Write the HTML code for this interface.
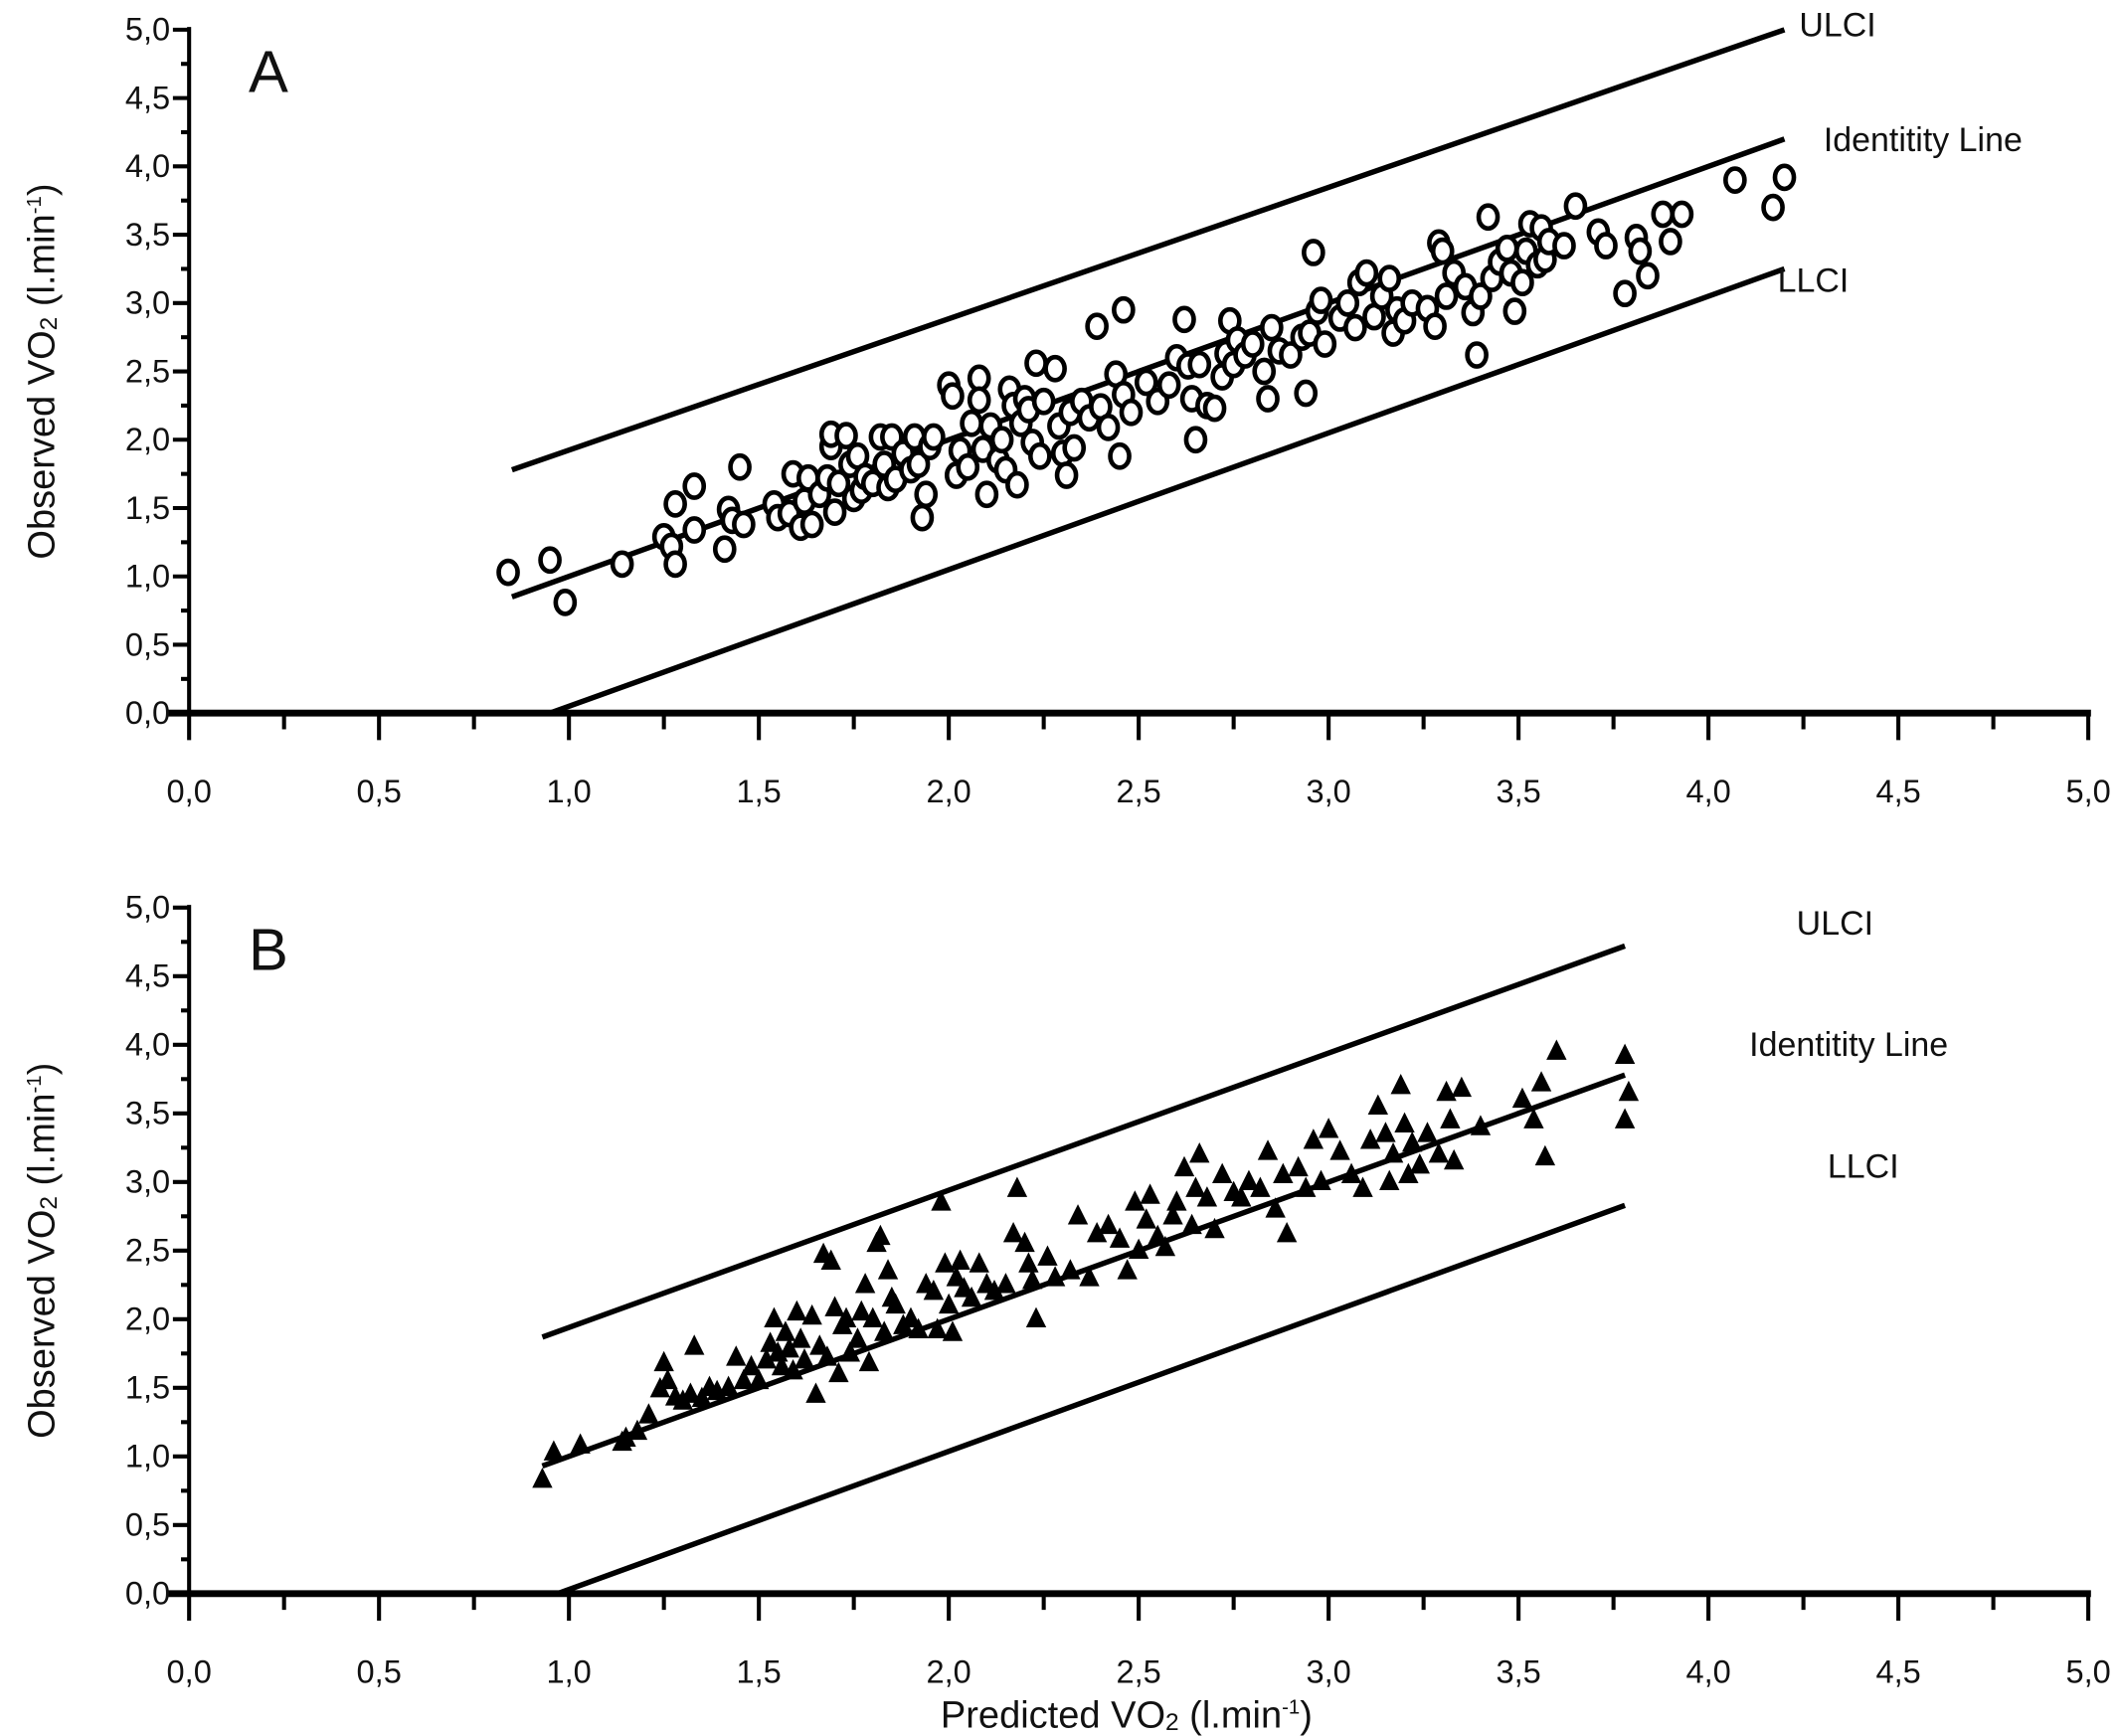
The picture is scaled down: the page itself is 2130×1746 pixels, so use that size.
<!DOCTYPE html>
<html><head><meta charset="utf-8"><style>
html,body{margin:0;padding:0;background:#fff}
svg{display:block}
text{font-family:"Liberation Sans",sans-serif;fill:#111}
</style></head><body>
<svg id="chart" width="2130" height="1746" viewBox="0 0 1568 1285.4" preserveAspectRatio="none" xmlns="http://www.w3.org/2000/svg"></svg>
<script>
const xTicks=["0,0","0,5","1,0","1,5","2,0","2,5","3,0","3,5","4,0","4,5","5,0"];
const yTicks=["0,0","0,5","1,0","1,5","2,0","2,5","3,0","3,5","4,0","4,5","5,0"];
const tickValues=[0,0.5,1,1.5,2,2.5,3,3.5,4,4.5,5];
const linesA=[{n:"ulci",x1:0.85,y1:1.78,x2:4.2,y2:5.0},{n:"identity",x1:0.85,y1:0.85,x2:4.2,y2:4.2},{n:"llci",x1:0.95,y1:0,x2:4.2,y2:3.25}];
const linesB=[{n:"ulci",x1:0.93,y1:1.87,x2:3.78,y2:4.72},{n:"identity",x1:0.93,y1:0.93,x2:3.78,y2:3.78},{n:"llci",x1:0.97,y1:0,x2:3.78,y2:2.83}];
const ptsA=[[0.84,1.03],[0.95,1.12],[0.99,0.81],[1.14,1.09],[1.25,1.29],[1.27,1.22],[1.28,1.09],[1.28,1.53],[1.33,1.66],[1.33,1.34],[1.41,1.20],[1.42,1.49],[1.43,1.41],[1.45,1.80],[1.46,1.38],[1.54,1.53],[1.55,1.43],[1.58,1.46],[1.59,1.75],[1.61,1.36],[1.62,1.55],[1.63,1.72],[1.64,1.38],[1.66,1.60],[1.68,1.72],[1.69,1.95],[1.69,2.04],[1.70,1.47],[1.71,1.68],[1.73,2.03],[1.74,1.82],[1.75,1.57],[1.76,1.88],[1.77,1.63],[1.78,1.73],[1.80,1.68],[1.82,2.02],[1.83,1.82],[1.84,1.65],[1.85,2.02],[1.86,1.71],[1.88,1.90],[1.90,1.78],[1.91,2.02],[1.92,1.82],[1.93,1.43],[1.94,1.60],[1.95,1.95],[1.96,2.02],[2.00,2.40],[2.01,2.32],[2.02,1.74],[2.03,1.92],[2.05,1.80],[2.06,2.12],[2.08,2.45],[2.08,2.29],[2.09,1.93],[2.10,1.60],[2.11,2.10],[2.13,1.85],[2.14,2.00],[2.15,1.78],[2.16,2.37],[2.17,2.25],[2.18,1.67],[2.19,2.12],[2.20,2.30],[2.21,2.22],[2.22,1.98],[2.23,2.56],[2.24,1.88],[2.25,2.28],[2.28,2.52],[2.29,2.10],[2.30,1.90],[2.31,1.74],[2.32,2.20],[2.33,1.94],[2.35,2.28],[2.37,2.16],[2.39,2.83],[2.40,2.24],[2.42,2.09],[2.44,2.48],[2.45,1.88],[2.46,2.95],[2.46,2.33],[2.48,2.20],[2.52,2.42],[2.55,2.28],[2.58,2.40],[2.60,2.60],[2.62,2.88],[2.63,2.54],[2.64,2.30],[2.65,2.00],[2.66,2.55],[2.68,2.25],[2.70,2.23],[2.72,2.46],[2.73,2.63],[2.74,2.87],[2.75,2.55],[2.76,2.73],[2.78,2.62],[2.80,2.70],[2.83,2.50],[2.84,2.30],[2.85,2.82],[2.87,2.65],[2.90,2.62],[2.93,2.75],[2.94,2.34],[2.95,2.78],[2.96,3.37],[2.97,2.94],[2.98,3.02],[2.99,2.70],[3.03,2.89],[3.05,3.00],[3.07,2.82],[3.08,3.15],[3.10,3.22],[3.12,2.90],[3.14,3.05],[3.16,3.18],[3.17,2.78],[3.18,2.95],[3.20,2.87],[3.22,3.00],[3.26,2.96],[3.28,2.83],[3.29,3.44],[3.30,3.38],[3.31,3.05],[3.33,3.22],[3.36,3.12],[3.38,2.93],[3.39,2.62],[3.40,3.05],[3.42,3.63],[3.43,3.18],[3.45,3.30],[3.47,3.40],[3.48,3.22],[3.49,2.94],[3.51,3.15],[3.52,3.38],[3.53,3.58],[3.55,3.28],[3.56,3.55],[3.57,3.32],[3.58,3.45],[3.62,3.42],[3.65,3.71],[3.71,3.52],[3.73,3.42],[3.78,3.07],[3.81,3.48],[3.82,3.38],[3.84,3.20],[3.88,3.65],[3.90,3.45],[3.93,3.65],[4.07,3.90],[4.17,3.70],[4.20,3.92]];
const ptsB=[[0.93,0.83],[0.96,1.03],[1.03,1.08],[1.14,1.10],[1.15,1.13],[1.18,1.18],[1.21,1.30],[1.24,1.49],[1.25,1.68],[1.26,1.55],[1.28,1.43],[1.30,1.40],[1.32,1.45],[1.33,1.80],[1.35,1.42],[1.37,1.50],[1.39,1.47],[1.42,1.50],[1.44,1.72],[1.46,1.55],[1.48,1.65],[1.50,1.55],[1.52,1.70],[1.53,1.82],[1.54,2.00],[1.55,1.75],[1.56,1.65],[1.57,1.90],[1.58,1.78],[1.59,1.62],[1.60,2.05],[1.61,1.85],[1.62,1.70],[1.64,2.02],[1.65,1.45],[1.66,1.80],[1.67,2.47],[1.68,1.72],[1.69,2.42],[1.70,2.08],[1.71,1.60],[1.72,1.95],[1.73,2.00],[1.74,1.75],[1.76,1.85],[1.77,2.05],[1.78,2.25],[1.79,1.68],[1.80,2.00],[1.81,2.55],[1.82,2.60],[1.83,1.90],[1.84,2.35],[1.85,2.15],[1.86,2.10],[1.88,1.95],[1.90,2.00],[1.92,1.92],[1.94,2.25],[1.96,2.20],[1.97,1.92],[1.98,2.85],[1.99,2.40],[2.00,2.10],[2.01,1.90],[2.02,2.30],[2.03,2.42],[2.04,2.22],[2.06,2.15],[2.08,2.40],[2.10,2.25],[2.12,2.20],[2.15,2.25],[2.17,2.62],[2.18,2.95],[2.20,2.55],[2.21,2.40],[2.22,2.28],[2.23,2.00],[2.26,2.45],[2.28,2.30],[2.32,2.35],[2.34,2.75],[2.37,2.30],[2.39,2.62],[2.42,2.68],[2.45,2.58],[2.47,2.35],[2.49,2.85],[2.50,2.50],[2.52,2.72],[2.53,2.90],[2.55,2.60],[2.57,2.52],[2.59,2.75],[2.60,2.85],[2.62,3.10],[2.64,2.68],[2.65,2.95],[2.66,3.20],[2.68,2.88],[2.70,2.65],[2.72,3.05],[2.75,2.92],[2.77,2.88],[2.79,3.00],[2.82,2.95],[2.84,3.22],[2.86,2.80],[2.88,3.05],[2.89,2.62],[2.92,3.10],[2.94,2.95],[2.96,3.30],[2.98,3.00],[3.00,3.38],[3.03,3.22],[3.06,3.05],[3.09,2.95],[3.11,3.30],[3.13,3.55],[3.15,3.35],[3.16,3.00],[3.17,3.20],[3.19,3.70],[3.20,3.42],[3.21,3.05],[3.22,3.28],[3.24,3.12],[3.26,3.35],[3.29,3.20],[3.31,3.65],[3.32,3.45],[3.33,3.15],[3.35,3.68],[3.40,3.40],[3.51,3.60],[3.54,3.45],[3.56,3.72],[3.57,3.18],[3.60,3.95],[3.78,3.92],[3.78,3.45],[3.79,3.65]];

const NS="http://www.w3.org/2000/svg";
const svg=document.getElementById('chart');
function mk(tag,attrs,parent){const e=document.createElementNS(NS,tag);for(const k in attrs)e.setAttribute(k,attrs[k]);(parent||svg).appendChild(e);return e;}
const X0=140,X1=1546;
function sx(v){return X0+(X1-X0)*v/5;}

function panel(id,y0,y5,letter,lines,pts,marker,labels,showXTitle){
  const g=mk('g',{});
  
  
  const sy=v=>y0+(y5-y0)*v/5;
  const ya=mk('line',{x1:X0,y1:sy(5)-2,x2:X0,y2:y0,stroke:'#000','stroke-width':3},g);
  
  
  const xa=mk('line',{x1:124,y1:y0,x2:1548,y2:y0,stroke:'#000','stroke-width':5},g);
  
  
  for(let i=0;i<=20;i++){
    const v=i*0.25;
    const major=i%2===0;
    mk('line',{x1:sx(v),y1:y0,x2:sx(v),y2:y0+(major?20:12),stroke:'#000','stroke-width':3},g);
    mk('line',{x1:X0-(major?12:6),y1:sy(v),x2:X0,y2:sy(v),stroke:'#000','stroke-width':3},g);
  }
  tickValues.forEach((v,i)=>{
    const t=mk('text',{x:sx(v),y:y0+66,'text-anchor':'middle','font-size':24},g);
    t.textContent=xTicks[i];
    
    
    const u=mk('text',{x:X0-14,y:sy(v)+8,'text-anchor':'end','font-size':24},g);
    u.textContent=yTicks[i];
    
    
  });
  const yt=mk('text',{x:0,y:0,'text-anchor':'middle','font-size':28,transform:`translate(40,${(y0+sy(5))/2}) rotate(-90)`},g);
  yt.innerHTML='Observed VO<tspan font-size="18" dy="2">2</tspan><tspan dy="-2"> (l.min</tspan><tspan font-size="15" dy="-10">-1</tspan><tspan dy="10">)</tspan>';
  
  
  const L=mk('text',{x:184,y:sy(5)+46,'font-size':44},g);
  L.textContent=letter;
  
  
  lines.forEach(l=>{
    const ln=mk('line',{x1:sx(l.x1),y1:sy(l.y1),x2:sx(l.x2),y2:sy(l.y2),stroke:'#000','stroke-width':4},g);
    
    
  });
  pts.forEach(p=>{
    const cx=sx(p[0]),cy=sy(p[1]);
    let m;
    if(marker==='circle'){
      m=mk('ellipse',{cx:cx,cy:cy,rx:7,ry:8.5,fill:'#fff',stroke:'#000','stroke-width':3.4},g);
    }else{
      m=mk('polygon',{points:`${cx},${cy-9} ${cx-7.5},${cy+6} ${cx+7.5},${cy+6}`,fill:'#000'},g);
    }
    
    
  });
  labels.forEach(lb=>{
    const t=mk('text',{x:lb[1],y:lb[2],'font-size':25},g);
    t.textContent=lb[0];
    
    
  });
  if(showXTitle){
    const xt=mk('text',{x:834,y:y0+99,'text-anchor':'middle','font-size':28},g);
    xt.innerHTML='Predicted VO<tspan font-size="18" dy="2">2</tspan><tspan dy="-2"> (l.min</tspan><tspan font-size="15" dy="-10">-1</tspan><tspan dy="10">)</tspan>';
    
    
  }
}
panel('a',528,22,'A',linesA,ptsA,'circle',[["ULCI",1332,27],["Identitity Line",1350,112],["LLCI",1316,216]],false);
panel('b',1180,672,'B',linesB,ptsB,'triangle',[["ULCI",1330,692],["Identitity Line",1295,782],["LLCI",1353,872]],true);
</script>
</body></html>
